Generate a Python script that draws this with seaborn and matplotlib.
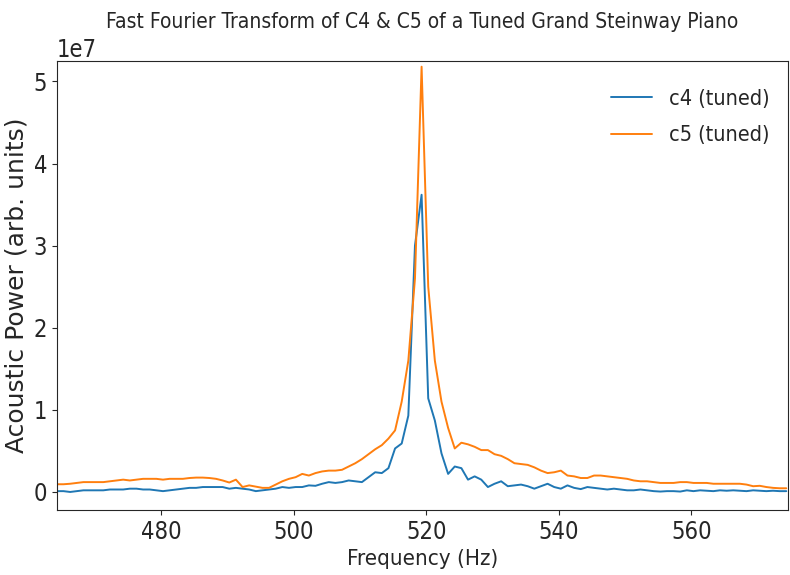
import numpy as np
import pandas as pd
import seaborn as sns
import matplotlib
matplotlib.use("Agg")
import matplotlib.pyplot as plt

# FFT frequency bins (Hz), 1 Hz resolution
freq = np.arange(464.3, 574.35, 1.0)

# Acoustic power in units of 1e7
c4_tuned = [
    0.01, 0.01, 0.00, 0.01, 0.02, 0.02, 0.02, 0.02, 0.03, 0.03,   # 464-473
    0.03, 0.04, 0.04, 0.03, 0.03, 0.02, 0.01, 0.02, 0.03, 0.04,   # 474-483
    0.05, 0.05, 0.06, 0.06, 0.06, 0.06, 0.04, 0.05, 0.04, 0.03,   # 484-493
    0.01, 0.02, 0.03, 0.04, 0.06, 0.05, 0.06, 0.06, 0.08, 0.075,  # 494-503
    0.10, 0.12, 0.11, 0.12, 0.14, 0.13, 0.12, 0.18, 0.24, 0.23,   # 504-513
    0.29, 0.53, 0.59, 0.93, 3.00, 3.62, 1.14, 0.87, 0.47, 0.22,   # 514-523
    0.31, 0.29, 0.15, 0.19, 0.15, 0.06, 0.10, 0.13, 0.07, 0.08,   # 524-533
    0.09, 0.07, 0.04, 0.07, 0.10, 0.06, 0.04, 0.08, 0.05, 0.035,  # 534-543
    0.06, 0.05, 0.04, 0.03, 0.04, 0.03, 0.02, 0.02, 0.03, 0.02,   # 544-553
    0.01, 0.005, 0.01, 0.01, 0.005, 0.02, 0.01, 0.02, 0.015, 0.01,  # 554-563
    0.02, 0.015, 0.02, 0.015, 0.01, 0.02, 0.015, 0.01, 0.015, 0.01,  # 564-573
    0.01,                                                          # 574
]
c5_tuned = [
    0.094, 0.094, 0.10, 0.11, 0.12, 0.12, 0.12, 0.12, 0.13, 0.14,   # 464-473
    0.15, 0.14, 0.15, 0.16, 0.16, 0.16, 0.15, 0.16, 0.16, 0.16,     # 474-483
    0.17, 0.175, 0.175, 0.17, 0.16, 0.14, 0.115, 0.15, 0.06, 0.08,  # 484-493
    0.065, 0.05, 0.05, 0.09, 0.13, 0.16, 0.18, 0.22, 0.20, 0.23,    # 494-503
    0.25, 0.26, 0.26, 0.27, 0.31, 0.35, 0.40, 0.46, 0.52, 0.57,     # 504-513
    0.65, 0.75, 1.10, 1.60, 2.60, 5.18, 2.50, 1.60, 1.10, 0.78,     # 514-523
    0.53, 0.60, 0.58, 0.55, 0.51, 0.51, 0.46, 0.44, 0.40, 0.35,     # 524-533
    0.34, 0.33, 0.30, 0.26, 0.23, 0.24, 0.26, 0.20, 0.19, 0.17,     # 534-543
    0.17, 0.20, 0.20, 0.19, 0.18, 0.17, 0.16, 0.14, 0.13, 0.13,     # 544-553
    0.12, 0.11, 0.11, 0.11, 0.12, 0.12, 0.11, 0.11, 0.11, 0.10,     # 554-563
    0.10, 0.10, 0.10, 0.10, 0.09, 0.07, 0.075, 0.06, 0.05, 0.045,   # 564-573
    0.045,                                                          # 574
]
labels = ["c4 (tuned)", "c5 (tuned)"]


def main():
    sns.set_style("ticks")
    plt.rcParams['font.family'] = ['DejaVu Sans']
    plt.rcParams['font.stretch'] = 'condensed'

    df = pd.DataFrame({
        "Frequency": np.concatenate([freq, freq]),
        "Power": np.concatenate([c4_tuned, c5_tuned]) * 1e7,
        "Note": [labels[0]] * len(freq) + [labels[1]] * len(freq),
    })

    fig = plt.figure(figsize=(7.9, 5.75), dpi=100)
    ax = fig.add_axes([0.072, 0.113, 0.925, 0.781])
    sns.lineplot(data=df, x="Frequency", y="Power", hue="Note",
                 palette=["#1f77b4", "#ff7f0e"], linewidth=1.4, ax=ax)

    ax.set_xlim(464.3, 574.5)
    ax.set_ylim(-0.22e7, 5.25e7)
    ax.set_xticks([480, 500, 520, 540, 560])
    ax.tick_params(labelsize=17, color='.15')
    ax.yaxis.get_offset_text().set_fontsize(17)
    ax.set_xlabel("Frequency (Hz)", fontsize=16)
    ax.set_ylabel("Acoustic Power (arb. units)", fontsize=18, stretch='normal')
    ax.set_title("Fast Fourier Transform of C4 & C5 of a Tuned Grand Steinway Piano",
                 fontsize=15, pad=24)
    ax.legend(loc='upper right', bbox_to_anchor=(1.014, 1.0), frameon=False,
              fontsize=15.5, title=None, handlelength=1.9, borderaxespad=0.9,
              labelspacing=0.75)

    fig.savefig("out.png", dpi=100)
    plt.close(fig)


if __name__ == "__main__":
    main()
